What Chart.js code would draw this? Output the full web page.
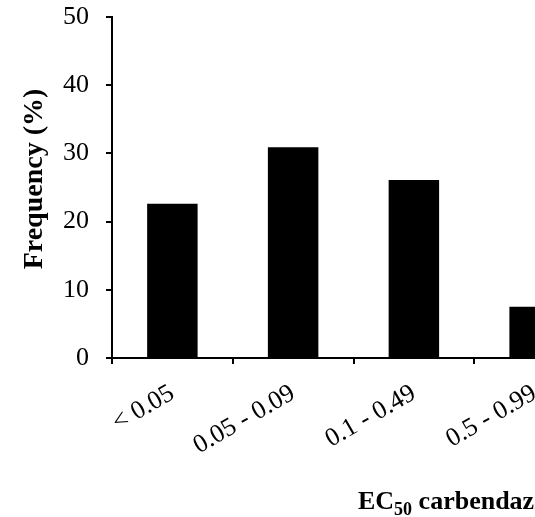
<!DOCTYPE html>
<html lang="en">
<head>
    <meta charset="UTF-8">
    <title>EC50 carbendazim frequency</title>
    <script src="https://cdn.jsdelivr.net/npm/chart.js"></script>
    <style>
        html, body { margin: 0; padding: 0; background: #fff; overflow: hidden; }
        #wrap { width: 620px; height: 517px; }
    </style>
</head>
<body>
    <div id="wrap">
        <canvas id="grafico" width="620" height="517"></canvas>
    </div>
    <script>
        // Dados
        const categorias = ['< 0.05', '0.05 - 0.09', '0.1 - 0.49', '0.5 - 0.99'];
        const frequencias = [22.6, 30.9, 26.1, 7.5];
        const ticksY = [0, 10, 20, 30, 40, 50];

        const serif = "'Liberation Serif', 'Times New Roman', serif";

        // Títulos dos eixos desenhados à mão (subscrito no EC50)
        const titulos = {
            id: 'titulos',
            afterDraw(chart) {
                const ctx = chart.ctx;
                ctx.save();
                ctx.fillStyle = '#000';
                ctx.textBaseline = 'alphabetic';

                // eixo y
                ctx.font = 'bold 28px ' + serif;
                ctx.translate(42, 179);
                ctx.rotate(-Math.PI / 2);
                ctx.textAlign = 'center';
                ctx.fillText('Frequency (%)', 0, 0);
                ctx.setTransform(1, 0, 0, 1, 0, 0);

                // eixo x
                ctx.textAlign = 'left';
                let x = 358;
                ctx.font = 'bold 26px ' + serif;
                ctx.fillText('EC', x, 509);
                x += ctx.measureText('EC').width;
                ctx.font = 'bold 18px ' + serif;
                ctx.fillText('50', x, 515);
                x += ctx.measureText('50').width;
                ctx.font = 'bold 26px ' + serif;
                ctx.fillText(' carbendazim (\u00b5g/mL)', x, 509);
                ctx.restore();
            }
        };

        new Chart(document.getElementById('grafico'), {
            type: 'bar',
            data: {
                labels: categorias,
                datasets: [{
                    data: frequencias,
                    backgroundColor: '#000',
                    borderWidth: 0,
                    barPercentage: 0.418,
                    categoryPercentage: 1
                }]
            },
            options: {
                responsive: false,
                animation: false,
                layout: { padding: { top: 17, right: 25, left: 0, bottom: 0 } },
                plugins: { legend: { display: false }, tooltip: { enabled: false } },
                scales: {
                    x: {
                        afterFit(scale) { scale.height = 159; },
                        grid: { offset: true, drawOnChartArea: false, drawTicks: true, tickLength: 6, color: '#000', lineWidth: 2 },
                        border: { display: true, color: '#000', width: 2 },
                        ticks: {
                            color: '#000',
                            font: { family: serif, size: 26 },
                            minRotation: 30,
                            maxRotation: 30,
                            autoSkip: false,
                            padding: 14
                        }
                    },
                    y: {
                        min: 0,
                        max: 50,
                        afterFit(scale) {
                            scale.width = 112;
                            scale.paddingTop = 0;
                            scale.paddingBottom = 0;
                        },
                        afterBuildTicks(scale) { scale.ticks = ticksY.map(v => ({ value: v })); },
                        grid: { drawOnChartArea: false, drawTicks: true, tickLength: 6, color: '#000', lineWidth: 2 },
                        border: { display: true, color: '#000', width: 2 },
                        ticks: {
                            color: '#000',
                            font: { family: serif, size: 26 },
                            padding: 17
                        }
                    }
                }
            },
            plugins: [titulos]
        });
    </script>
</body>
</html>
